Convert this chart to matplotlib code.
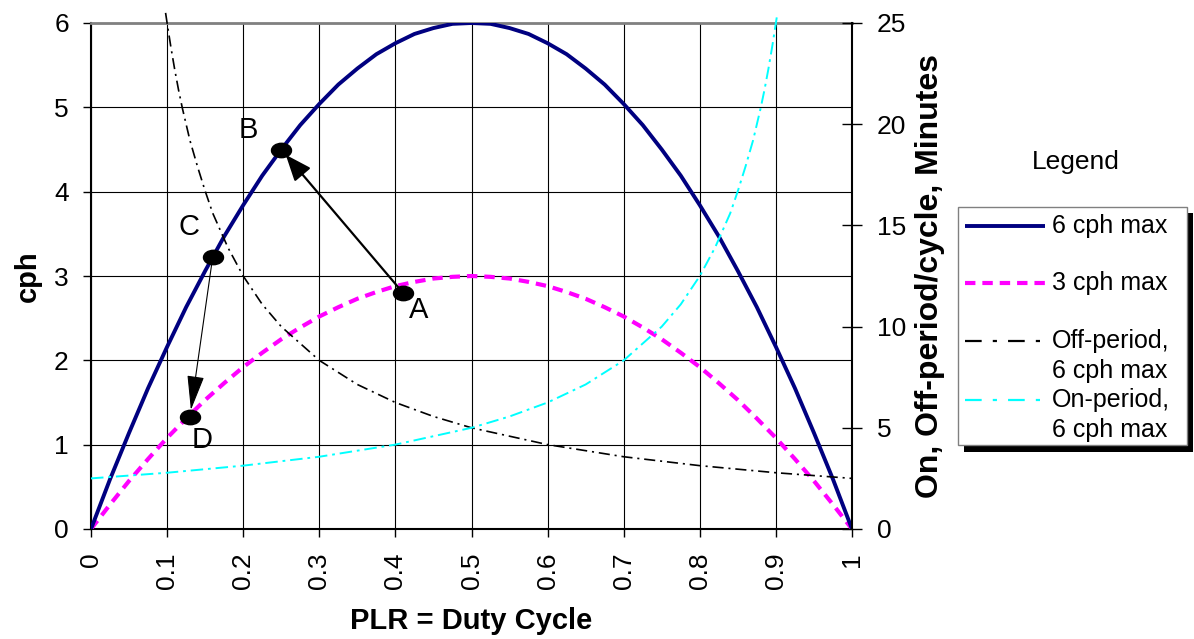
import matplotlib
matplotlib.use('Agg')
import matplotlib.pyplot as plt
from matplotlib.path import Path
from matplotlib.transforms import Affine2D
from matplotlib.lines import Line2D
from matplotlib.patches import Rectangle

plt.rcParams['font.family'] = ['Liberation Sans', 'DejaVu Sans']
plt.rcParams['lines.scale_dashes'] = False

NAVY = '#000080'
MAGENTA = '#FF00FF'
CYAN = '#00FFFF'
GRAY = '#808080'

# cycles per hour vs part load ratio
plr = [0, 0.025, 0.05, 0.075, 0.1, 0.125, 0.15, 0.175, 0.2, 0.225, 0.25,
       0.275, 0.3, 0.325, 0.35, 0.375, 0.4, 0.425, 0.45, 0.475, 0.5,
       0.525, 0.55, 0.575, 0.6, 0.625, 0.65, 0.675, 0.7, 0.725, 0.75,
       0.775, 0.8, 0.825, 0.85, 0.875, 0.9, 0.925, 0.95, 0.975, 1.0]
cph6 = [0, 0.59, 1.14, 1.67, 2.16, 2.63, 3.06, 3.47, 3.84, 4.19, 4.5,
        4.79, 5.04, 5.27, 5.46, 5.63, 5.76, 5.87, 5.94, 5.99, 6.0,
        5.99, 5.94, 5.87, 5.76, 5.63, 5.46, 5.27, 5.04, 4.79, 4.5,
        4.19, 3.84, 3.47, 3.06, 2.63, 2.16, 1.67, 1.14, 0.59, 0]
cph3 = [0, 0.29, 0.57, 0.83, 1.08, 1.31, 1.53, 1.73, 1.92, 2.09, 2.25,
        2.39, 2.52, 2.63, 2.73, 2.81, 2.88, 2.93, 2.97, 2.99, 3.0,
        2.99, 2.97, 2.93, 2.88, 2.81, 2.73, 2.63, 2.52, 2.39, 2.25,
        2.09, 1.92, 1.73, 1.53, 1.31, 1.08, 0.83, 0.57, 0.29, 0]

# off / on period per cycle, minutes (right axis)
plr_off = [0.098, 0.1, 0.105, 0.11, 0.115, 0.12, 0.13, 0.14, 0.15, 0.16, 0.18,
           0.2, 0.225, 0.25, 0.3, 0.35, 0.4, 0.45, 0.5, 0.6, 0.7, 0.8, 0.9, 1.0]
off_min = [25.5, 25.0, 23.8, 22.7, 21.7, 20.8, 19.2, 17.9, 16.7, 15.6, 13.9,
           12.5, 11.1, 10.0, 8.33, 7.14, 6.25, 5.56, 5.0, 4.17, 3.57, 3.13, 2.78, 2.5]
plr_on = [0, 0.1, 0.2, 0.3, 0.4, 0.5, 0.55, 0.6, 0.65, 0.7, 0.75, 0.775,
          0.8, 0.82, 0.84, 0.85, 0.86, 0.87, 0.88, 0.885, 0.89, 0.895, 0.9, 0.902]
on_min = [2.5, 2.78, 3.13, 3.57, 4.17, 5.0, 5.56, 6.25, 7.14, 8.33, 10.0, 11.1,
          12.5, 13.9, 15.6, 16.7, 17.9, 19.2, 20.8, 21.7, 22.7, 23.8, 25.0, 25.5]

# operating points
pt_names = ['A', 'B', 'C', 'D']
pt_plr = [0.41, 0.25, 0.16, 0.13]
pt_cph = [2.80, 4.50, 3.23, 1.33]

x_ticks = [0, 0.1, 0.2, 0.3, 0.4, 0.5, 0.6, 0.7, 0.8, 0.9, 1]
x_ticklabels = ['0', '0.1', '0.2', '0.3', '0.4', '0.5', '0.6', '0.7', '0.8', '0.9', '1']
legend_labels = ['6 cph max', '3 cph max', 'Off-period,\n6 cph max', 'On-period,\n6 cph max']

W, H = 1194, 639
fig = plt.figure(figsize=(W / 100, H / 100), dpi=100)
ax = fig.add_axes([91 / W, 110 / H, 761 / W, 506 / H])

# styles
s6 = dict(color=NAVY, lw=2.8, solid_capstyle='butt')
s3 = dict(color=MAGENTA, lw=3.0, dashes=(7.5, 5))
soff = dict(color='black', lw=1.2, dashes=(8, 3.5, 1.5, 3.5))
son = dict(color=CYAN, lw=1.4, dashes=(9, 3.5, 2, 3.5))

ax.plot(plr, cph3, zorder=3, **s3)
ax.plot(plr, cph6, zorder=4, **s6)

ax.set_xlim(0, 1)
ax.set_ylim(0, 6)
ax.set_xticks(x_ticks)
ax.set_xticklabels(x_ticklabels, rotation=90)
ax.set_yticks(range(0, 7))
ax.grid(True, color='black', lw=0.8)
ax.set_axisbelow(True)
ax.tick_params(axis='both', labelsize=19, length=6, width=1, color='black')
ax.tick_params(axis='x', pad=11)
ax.tick_params(axis='y', pad=10)
for side in ['left', 'bottom']:
    ax.spines[side].set_linewidth(1.5)
ax.spines['top'].set_color(GRAY)
ax.spines['top'].set_linewidth(2)
ax.spines['right'].set_visible(False)
ax.set_ylabel('cph', fontsize=21, fontweight='bold', labelpad=9)
ax.set_xlabel('PLR = Duty Cycle', fontsize=21, fontweight='bold', labelpad=13)

ax2 = ax.twinx()
ax2.plot(plr_off, off_min, clip_on=False, zorder=3, **soff)
ax2.plot(plr_on, on_min, clip_on=False, zorder=3, **son)
ax2.set_ylim(0, 25)
ax2.set_yticks(range(0, 26, 5))
ax2.tick_params(axis='y', labelsize=19, direction='inout', length=14, width=1, pad=11)
for side in ['left', 'bottom', 'top']:
    ax2.spines[side].set_visible(False)
ax2.spines['right'].set_linewidth(1.5)
ax2.set_ylabel('On, Off-period/cycle, Minutes', fontsize=23, fontweight='bold', labelpad=6)

# points, arrows, letters (drawn on top axis in cph coordinates)
ax3 = ax.twinx()
ax3.set_ylim(0, 6)
ax3.axis('off')
ellipse = Path.unit_circle().transformed(Affine2D().scale(1.0, 0.72))
ax3.plot(pt_plr, pt_cph, ls='none', marker=ellipse, ms=14.4, color='black', zorder=6)
ax3.annotate('', xy=(pt_plr[1], pt_cph[1]), xytext=(pt_plr[0], pt_cph[0]),
             arrowprops=dict(arrowstyle='-|>,head_length=0.8,head_width=0.32',
                             color='black', lw=1.6, shrinkA=0, shrinkB=5,
                             mutation_scale=20))
ax3.annotate('', xy=(pt_plr[3], pt_cph[3]), xytext=(pt_plr[2], pt_cph[2]),
             arrowprops=dict(arrowstyle='-|>,head_length=1.1,head_width=0.27',
                             color='black', lw=0.8, shrinkA=0, shrinkB=5,
                             mutation_scale=20))
offsets = [(11, -12), (-24, 14), (-17, 21), (9, -17)]
for name, px, py, off in zip(pt_names, pt_plr, pt_cph, offsets):
    ax3.annotate(name, (px, py), xytext=off, textcoords='offset points',
                 ha='center', va='center', fontsize=21)

# legend (Excel style: title above a shadowed box)
fx = lambda p: p / W
fy = lambda p: 1 - p / H
fig.text(fx(1076), fy(162), 'Legend', ha='center', va='center', fontsize=19)
fig.add_artist(Rectangle((fx(964), fy(452)), fx(1193) - fx(964), fy(213) - fy(452),
                         transform=fig.transFigure, facecolor='black', edgecolor='none'))
fig.add_artist(Rectangle((fx(958), fy(445)), fx(1187) - fx(958), fy(207) - fy(445),
                         transform=fig.transFigure, facecolor='white', edgecolor=GRAY, lw=1))
handle_styles = [s6, s3, dict(soff, lw=1.6, dashes=(12, 8, 3, 8)),
                 dict(son, lw=1.6, dashes=(12, 8, 3, 8))]
handle_rows = [226, 283, 341, 400]
for st, row, lab in zip(handle_styles, handle_rows, legend_labels):
    fig.add_artist(Line2D([fx(965), fx(1045)], [fy(row), fy(row)],
                          transform=fig.transFigure, **st))
    for i, line in enumerate(lab.split('\n')):
        fig.text(fx(1052), fy(row + 30 * i), line, ha='left', va='center', fontsize=18)

fig.savefig('out.png', dpi=100)
